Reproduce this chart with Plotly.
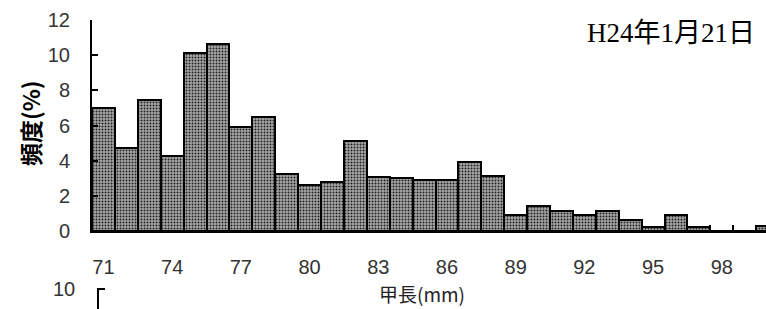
import plotly.graph_objects as go

# ---- data ----
lengths = list(range(71, 101))  # 甲長 (mm)
freq = [7.0, 4.7, 7.45, 4.25, 10.15, 10.65, 5.9, 6.5, 3.25, 2.6,
        2.8, 5.1, 3.05, 3.0, 2.9, 2.9, 3.95, 3.1, 0.9, 1.4,
        1.15, 0.9, 1.15, 0.6, 0.2, 0.9, 0.2, 0.0, 0.0, 0.3]
x_ticks = [71, 74, 77, 80, 83, 86, 89, 92, 95, 98]
y_ticks = [0, 2, 4, 6, 8, 10, 12]
date_label = "H24年1月21日"
x_title = "甲長(mm)"
y_title = "頻度(%)"

W, H = 766, 309
L, R, T, B = 92, 0, 20, 78
pw, ph = W - L - R, H - T - B
px_per_unit = 22.9


def px(xp):
    return (xp - L) / pw


def py(yp):
    return (H - B - yp) / ph


fig = go.Figure(go.Bar(
    x=lengths, y=freq, width=1.0,
    marker=dict(
        color="#9a9a9a", line=dict(color="black", width=2),
        pattern=dict(shape=".", fgcolor="#222222", bgcolor="#a8a8a8",
                     size=3, solidity=0.35, fillmode="replace"),
    ),
    cliponaxis=True, hoverinfo="skip",
))

tickfont = dict(family="Liberation Sans, Arial, sans-serif", size=20, color="#333")

fig.update_layout(
    width=W, height=H,
    margin=dict(l=L, r=R, t=T, b=B, autoexpand=False),
    paper_bgcolor="white", plot_bgcolor="white",
    bargap=0, showlegend=False,
    xaxis=dict(
        range=[70.5, 70.5 + pw / px_per_unit], automargin=False,
        tickmode="array", tickvals=x_ticks,
        ticks="outside", ticklen=17, tickcolor="rgba(0,0,0,0)",
        tickfont=tickfont,
        showline=True, linecolor="black", linewidth=2,
        showgrid=False, zeroline=False,
        minor=dict(tick0=70.5, dtick=1, ticks="inside", ticklen=6,
                   tickwidth=2, tickcolor="black", showgrid=False),
    ),
    yaxis=dict(
        range=[0, 12], tickmode="array", tickvals=y_ticks, automargin=False,
        ticks="inside", ticklen=6, tickwidth=2, tickcolor="black",
        tickfont=tickfont, ticklabelstandoff=16,
        showline=True, linecolor="black", linewidth=2,
        showgrid=False, zeroline=False,
    ),
)

annotations = [
    dict(text=date_label, xref="paper", yref="paper", x=px(757), y=py(33),
         xanchor="right", yanchor="middle", showarrow=False,
         font=dict(family="Liberation Serif, Noto Sans CJK JP, serif", size=27, color="black")),
    dict(text=y_title, xref="paper", yref="paper", x=px(30), y=py(123),
         xanchor="center", yanchor="middle", showarrow=False, textangle=-90,
         font=dict(family="Noto Sans CJK JP, sans-serif", size=23, color="black", weight="bold")),
    dict(text=x_title, xref="paper", yref="paper", x=px(422), y=py(309),
         xanchor="center", yanchor="bottom", showarrow=False,
         font=dict(family="Noto Sans CJK JP, sans-serif", size=19, color="#222")),
    dict(text="10", xref="paper", yref="paper", x=px(77), y=py(289),
         xanchor="right", yanchor="middle", showarrow=False, font=tickfont),
]
fig.update_layout(annotations=annotations)

fig.update_layout(shapes=[
    dict(type="line", xref="paper", yref="paper", x0=px(98), x1=px(98),
         y0=py(288), y1=py(330), line=dict(color="black", width=2)),
    dict(type="line", xref="paper", yref="paper", x0=px(98), x1=px(105),
         y0=py(289), y1=py(289), line=dict(color="black", width=2)),
])

fig.write_html(
    "out.html",
    config={"displayModeBar": False},
    post_script="document.body.style.margin='0';document.body.style.overflow='hidden';",
)
